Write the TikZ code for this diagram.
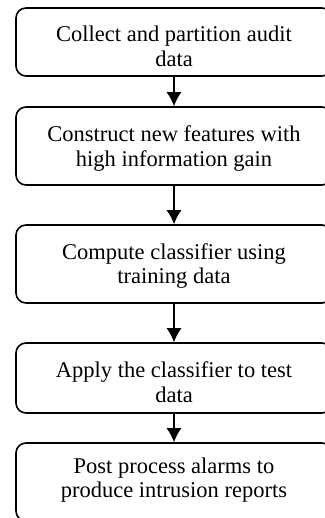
\documentclass[tikz,border=0pt]{standalone}
\usepackage{fontspec}
\setmainfont{Liberation Serif}
\usetikzlibrary{arrows.meta}

\tikzset{
    stepbox/.style={rectangle, draw, rounded corners=10pt, line width=1.6pt,
        minimum width=316pt, inner sep=0pt, align=center,
        font=\fontsize{22.5}{24.5}\selectfont},
    flow/.style={->, line width=1.4pt}
}

\begin{document}
\begin{tikzpicture}[x=1pt, y=-1pt, >={Latex[width=15pt,length=14pt]}]
    \useasboundingbox (0,0) rectangle (324,518);

    % processing steps (struts only set the text height inside the box)
    \node[stepbox, minimum height=68pt] (collect) at (174,42) {\rule{0pt}{24pt}Collect and partition audit\\data};
    \node[stepbox, minimum height=78pt] (construct) at (174,146) {\rule{0pt}{21pt}Construct new features with\\high information gain};
    \node[stepbox, minimum height=78pt] (compute) at (174,264) {\rule{0pt}{19.5pt}Compute classifier using\\training data};
    \node[stepbox, minimum height=70pt] (apply) at (174,378) {\rule{0pt}{24pt}Apply the classifier to test\\data};
    \node[stepbox, minimum height=78pt] (post) at (174,482) {Post process alarms to\\produce intrusion reports\rule[-9pt]{0pt}{0pt}};

    % arrows
    \draw[flow] (collect) -- (construct);
    \draw[flow] (construct) -- (compute);
    \draw[flow] (compute) -- (apply);
    \draw[flow] (apply) -- (post);
\end{tikzpicture}
\end{document}
